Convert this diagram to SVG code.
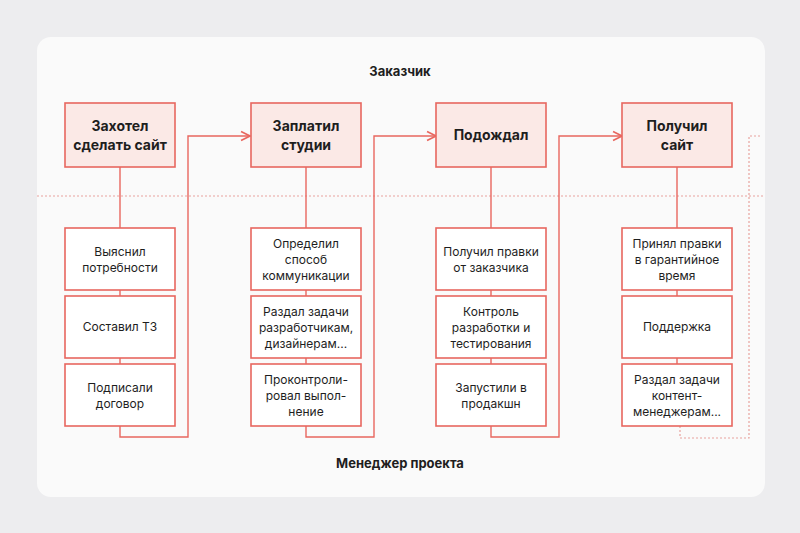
<svg xmlns="http://www.w3.org/2000/svg" width="800" height="533" viewBox="0 0 800 533">
<style>
.top{fill:#fbe9e6;stroke:#e8675f;stroke-width:1.6}
.box{fill:#fff;stroke:#e8675f;stroke-width:1.6}
.tt{font-family:Inter,"Liberation Sans",sans-serif;font-weight:700;font-size:14px;fill:#1e1e1e;text-anchor:middle}
.t{font-family:Inter,"Liberation Sans",sans-serif;font-size:12px;fill:#1e1e1e;text-anchor:middle}
.h{font-family:Inter,"Liberation Sans",sans-serif;font-weight:700;font-size:13px;fill:#1e1e1e;text-anchor:middle}
.c{fill:none;stroke:#e8675f;stroke-width:1.4}
.d{fill:none;stroke:#e8a29d;stroke-width:1.2;stroke-dasharray:2 2}
</style>
<defs><marker id="a" viewBox="0 0 10 10" refX="9" refY="5" markerWidth="8" markerHeight="8" orient="auto"><path d="M1 1L9 5L1 9" fill="none" stroke="#e8675f" stroke-width="1.5"/></marker></defs>
<rect width="800" height="533" fill="#ededef"/>
<rect x="37" y="37" width="728" height="460" rx="14" fill="#fafafa"/>
<line x1="37" y1="196" x2="765" y2="196" class="d" stroke="#d9b0ad"/>
<text class="h" x="400" y="76">Заказчик</text>
<text class="h" x="400" y="468">Менеджер проекта</text>
<g id="connectors">
<path class="c" d="M120 167V228M120 290V296M120 358V364M306 167V228M306 290V296M306 358V364M491 167V228M491 290V296M491 358V364M677 167V228M677 290V296M677 358V364"/>
<path class="c" d="M120 426V437H188V136H250" marker-end="url(#a)"/>
<path class="c" d="M306 426V437H374V136H436" marker-end="url(#a)"/>
<path class="c" d="M491 426V437H559V136H622" marker-end="url(#a)"/>
<path class="d" d="M680 426V438H749V136H760"/>
</g>
<g id="n1"><rect class="top" x="65" y="103" width="110" height="64"/><text class="tt" x="120" y="131">Захотел</text><text class="tt" x="120" y="150">сделать сайт</text></g>
<g id="n2"><rect class="top" x="251" y="103" width="110" height="64"/><text class="tt" x="306" y="131">Заплатил</text><text class="tt" x="306" y="150">студии</text></g>
<g id="n3"><rect class="top" x="436" y="103" width="110" height="64"/><text class="tt" x="491" y="140">Подождал</text></g>
<g id="n4"><rect class="top" x="622" y="103" width="110" height="64"/><text class="tt" x="677" y="131">Получил</text><text class="tt" x="677" y="150">сайт</text></g>
<g id="b11"><rect class="box" x="65" y="228" width="110" height="62"/><text class="t" x="120" y="256">Выяснил</text><text class="t" x="120" y="272">потребности</text></g>
<g id="b12"><rect class="box" x="65" y="296" width="110" height="62"/><text class="t" x="120" y="331">Составил ТЗ</text></g>
<g id="b13"><rect class="box" x="65" y="364" width="110" height="62"/><text class="t" x="120" y="392">Подписали</text><text class="t" x="120" y="408">договор</text></g>
<g id="b21"><rect class="box" x="251" y="228" width="110" height="62"/><text class="t" x="306" y="248">Определил</text><text class="t" x="306" y="264">способ</text><text class="t" x="306" y="280">коммуникации</text></g>
<g id="b22"><rect class="box" x="251" y="296" width="110" height="62"/><text class="t" x="306" y="316">Раздал задачи</text><text class="t" x="306" y="332">разработчикам,</text><text class="t" x="306" y="348">дизайнерам...</text></g>
<g id="b23"><rect class="box" x="251" y="364" width="110" height="62"/><text class="t" x="306" y="384">Проконтроли-</text><text class="t" x="306" y="400">ровал выпол-</text><text class="t" x="306" y="416">нение</text></g>
<g id="b31"><rect class="box" x="436" y="228" width="110" height="62"/><text class="t" x="491" y="256">Получил правки</text><text class="t" x="491" y="272">от заказчика</text></g>
<g id="b32"><rect class="box" x="436" y="296" width="110" height="62"/><text class="t" x="491" y="316">Контроль</text><text class="t" x="491" y="332">разработки и</text><text class="t" x="491" y="348">тестирования</text></g>
<g id="b33"><rect class="box" x="436" y="364" width="110" height="62"/><text class="t" x="491" y="392">Запустили в</text><text class="t" x="491" y="408">продакшн</text></g>
<g id="b41"><rect class="box" x="622" y="228" width="110" height="62"/><text class="t" x="677" y="248">Принял правки</text><text class="t" x="677" y="264">в гарантийное</text><text class="t" x="677" y="280">время</text></g>
<g id="b42"><rect class="box" x="622" y="296" width="110" height="62"/><text class="t" x="677" y="331">Поддержка</text></g>
<g id="b43"><rect class="box" x="622" y="364" width="110" height="62"/><text class="t" x="677" y="384">Раздал задачи</text><text class="t" x="677" y="400">контент-</text><text class="t" x="677" y="416">менеджерам...</text></g>
</svg>
